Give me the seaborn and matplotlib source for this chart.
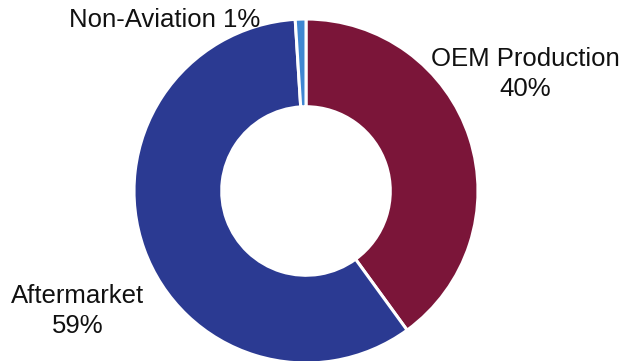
import matplotlib
matplotlib.use("Agg")
import matplotlib.pyplot as plt
import seaborn as sns

# Revenue split by segment
segments = ["OEM Production", "Aftermarket", "Non-Aviation"]
shares = [40, 59, 1]
label_texts = ["OEM Production\n40%", "Aftermarket\n59%", "Non-Aviation 1%"]
segment_colors = ["#7B1539", "#2B3A92", "#3F87D2"]

sns.set_theme(style="white")
plt.rcParams["font.family"] = ["Liberation Sans", "DejaVu Sans"]

W, H = 631, 361
fig = plt.figure(figsize=(W / 100, H / 100), dpi=100)
ax = fig.add_axes([0, 0, 1, 1])

palette = sns.color_palette(segment_colors)
outer_r = 172
ax.pie(
    shares,
    colors=palette,
    startangle=90,
    counterclock=False,
    center=(306, H - 191),
    radius=outer_r,
    frame=True,
    wedgeprops=dict(width=outer_r * 0.51, edgecolor="white", linewidth=2.2),
)
ax.set_xlim(0, W)
ax.set_ylim(0, H)
ax.set_aspect("equal")
ax.axis("off")

label_pos = [(525, H - 74), (78, H - 311), (165, H - 20)]
for txt, (x, y) in zip(label_texts, label_pos):
    ax.text(x, y, txt, ha="center", va="center", fontsize=18.5,
            color="#111111", linespacing=1.3)

fig.savefig("out.png", dpi=100)
